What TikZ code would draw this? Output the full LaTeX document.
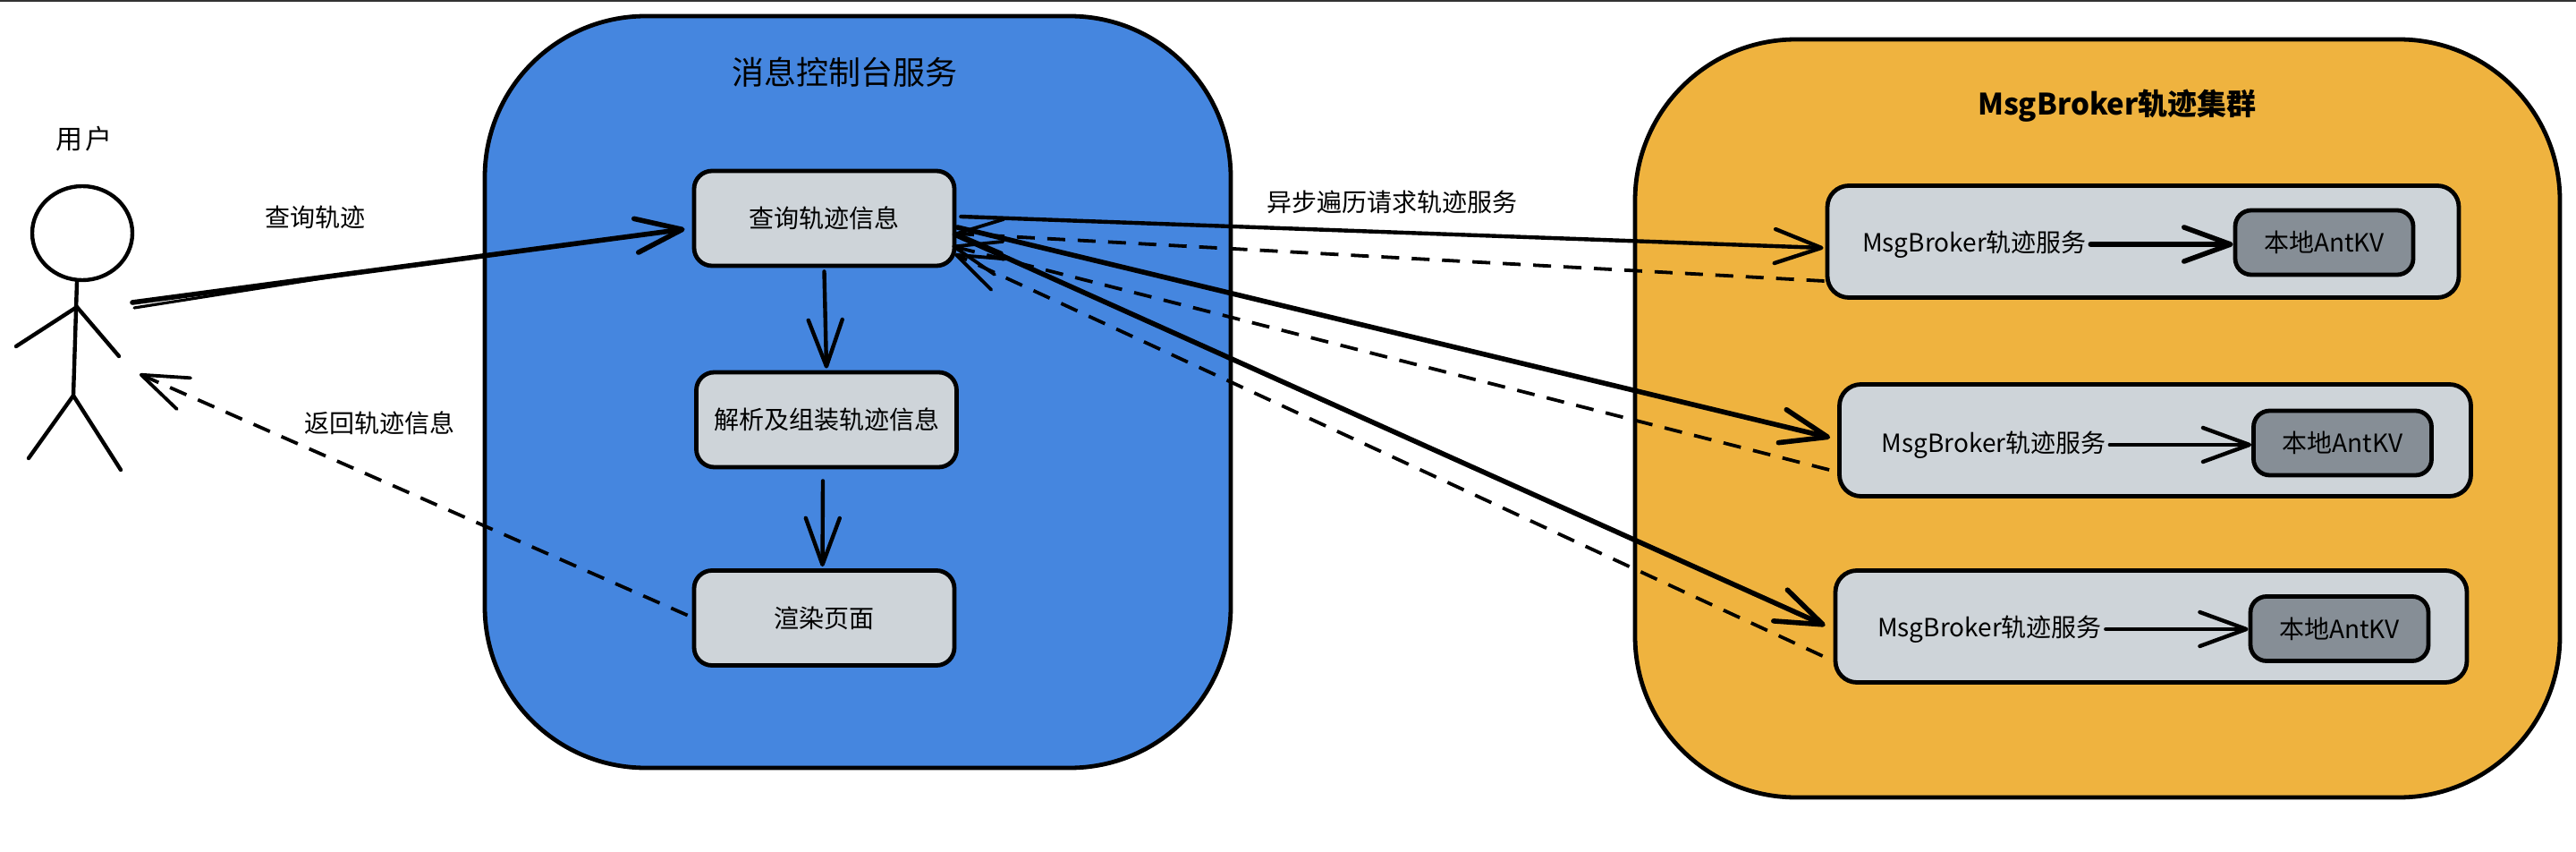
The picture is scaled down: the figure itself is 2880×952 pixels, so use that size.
\documentclass[tikz,border=0pt]{standalone}
\usepackage{fontspec}
\setmainfont{Noto Sans CJK SC}
\usetikzlibrary{arrows.meta,calc}
\definecolor{blueArea}{HTML}{4586DF}
\definecolor{orangeArea}{HTML}{EFB33F}
\definecolor{boxGrey}{HTML}{CED4D9}
\definecolor{kvGrey}{HTML}{868E96}
\tikzset{
  x=0.5pt,y=-0.5pt,
  area/.style={draw=black,line width=2.4pt,inner sep=0pt,rounded corners=90pt},
  stepbox/.style={draw=black,fill=boxGrey,line width=2.4pt,inner sep=0pt,rounded corners=10pt,minimum width=145.5pt,minimum height=53pt},
  svcbox/.style={draw=black,fill=boxGrey,line width=2.4pt,inner sep=0pt,rounded corners=12pt,minimum width=353pt,minimum height=62.5pt},
  kvbox/.style={draw=black,fill=kvGrey,line width=2.4pt,inner sep=0pt,rounded corners=9pt,minimum width=99.5pt,minimum height=36pt},
  lbl/.style={font=\fontsize{14pt}{16pt}\selectfont,inner sep=2pt},
  head/.style={-{Straight Barb[length=26pt,width=19pt,round]}},
  link/.style={head,line width=2.2pt,line cap=round},
  heavy/.style={head,line width=2.8pt,line cap=round},
  back/.style={head,line width=1.9pt,dash pattern=on 10pt off 7pt},
  stick/.style={line width=2.2pt,line cap=round}
}
\begin{document}
\begin{tikzpicture}
\useasboundingbox (0,0) rectangle (2880,952);
\draw[black!80,line width=0.8pt] (0,1) -- (2880,1);
% containers
\node[area,fill=blueArea,minimum width=417pt,minimum height=420pt] (console) at (959,438) {};
\node[area,fill=orangeArea,minimum width=517pt,minimum height=423.5pt] (cluster) at (2345,467.5) {};
\node[lbl,font=\fontsize{18pt}{20pt}\selectfont] (consoleT) at (944,81) {消息控制台服务};
\node[lbl,font=\fontsize{16.5pt}{18pt}\selectfont\bfseries] (clusterT) at (2367,118) {MsgBroker轨迹集群};
% steps
\node[stepbox] (query) at (921.5,244) {\fontsize{14pt}{16pt}\selectfont 查询轨迹信息};
\node[stepbox] (parse) at (924,469) {\fontsize{14pt}{16pt}\selectfont 解析及组装轨迹信息};
\node[stepbox] (render) at (921.5,690.5) {\fontsize{14pt}{16pt}\selectfont 渲染页面};
% services
\node[svcbox] (svcA) at (2396,270) {};
\node[svcbox] (svcB) at (2409.5,492) {};
\node[svcbox] (svcC) at (2405,700) {};
\node[kvbox] (kvA) at (2598.5,271) {\fontsize{14pt}{16pt}\selectfont 本地AntKV};
\node[kvbox] (kvB) at (2619,495) {\fontsize{14pt}{16pt}\selectfont 本地AntKV};
\node[kvbox] (kvC) at (2615.5,702.5) {\fontsize{14pt}{16pt}\selectfont 本地AntKV};
\node[lbl] (svcTA) at (2207.5,273) {MsgBroker轨迹服务};
\node[lbl] (svcTB) at (2229,497) {MsgBroker轨迹服务};
\node[lbl] (svcTC) at (2224.5,703) {MsgBroker轨迹服务};
\draw[heavy] (svcTA.east) -- (kvA.west |- svcTA.east);
\draw[link] (svcTB.east) -- (kvB.west |- svcTB.east);
\draw[link] (svcTC.east) -- (kvC.west |- svcTC.east);
% user
\draw[stick] (92,260.5) ellipse [x radius=56,y radius=52.5];
\draw[stick] (86,315) -- (82,442);
\draw[stick] (18,387) -- (86,343) -- (133,398);
\draw[stick] (32,512) -- (82,442) -- (135,525);
\coordinate (userOut) at (148,338);
\coordinate (userOutB) at (150,344);
\coordinate (userIn) at (156,418);
\node[lbl,font=\fontsize{15pt}{16pt}\selectfont] (userT) at (94,155) {用\hspace{1.5pt}户};
% labels
\node[lbl] (l1) at (352,243) {查询轨迹};
\node[lbl] (l2) at (424,473) {返回轨迹信息};
\node[lbl] (l3) at (1556,226) {异步遍历请求轨迹服务};
% connectors
\draw[heavy] (userOut) -- ([shift={(-8,12)}]query.west);
\draw[line width=1.6pt,line cap=round] (userOutB) -- ([shift={(-356,58)}]query.west);
\draw[back] ([shift={(-5,-3)}]render.west) -- (userIn);
\draw[link] ([yshift=-2pt]query.south) -- ([yshift=1pt]parse.north);
\draw[link] ([shift={(-4,13)}]parse.south) -- ([shift={(-2,-2)}]render.north);
\draw[link] ([shift={(5,-2)}]query.east) -- ([yshift=-3.5pt,xshift=-1pt]svcA.west);
\draw[back] ([shift={(-1,44)}]svcA.west) -- ([shift={(-2,17)}]query.east);
\draw[heavy] ([shift={(1,10)}]query.east) -- ([shift={(-8,-3)}]svcB.west);
\draw[back] ([shift={(-9,33)}]svcB.west) -- ([shift={(-5,31)}]query.east);
\draw[heavy] ([shift={(-2,18)}]query.east) -- ([shift={(-9,-1)}]svcC.west);
\draw[back] ([shift={(-12,33)}]svcC.west) -- ([shift={(-2,40)}]query.east);
\end{tikzpicture}
\end{document}
